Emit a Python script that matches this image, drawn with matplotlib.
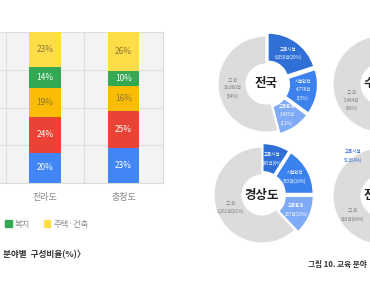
import numpy as np
import matplotlib
matplotlib.use("Agg")
import matplotlib.pyplot as plt
from matplotlib.patches import Patch

plt.rcParams['font.family'] = ['Noto Sans CJK KR', 'DejaVu Sans']

## Data:
# Stacked bars (bottom to top), percent per region.
regions = ['전라도', '충청도']
seg_blue = [20, 23]
seg_red = [24, 25]
seg_amber = [19, 16]
seg_welfare = [14, 10]      # 복지
seg_housing = [23, 26]      # 주택·건축

# Donuts: 교육시설, 시설안전, 교육환경, 그 외 (percent)
donut_parts = ['교육시설', '시설안전', '교육환경', '그 외']
nat_pct = [20, 15, 11, 54]
nat_txt = ['교육시설\n6,050건(20%)', '시설안전\n4,778건\n(15%)', '교육환경\n3,435건\n(11%)', '그 외\n16,860건\n(54%)']
cap_pct = [12, 13, 9, 66]
cap_txt = ['', '', '', '그 외\n5,484건\n(66%)']
gs_pct = [9, 16, 13, 62]
gs_txt = ['교육시설\n185건(9%)', '시설안전\n333건(16%)', '교육환경\n267건(13%)', '그 외\n1,261건(62%)']
jl_pct = [4, 15, 12, 69]
jl_txt = ['', '', '', '그 외\n983건(69%)']

W, H = 370, 290
fig = plt.figure(figsize=(W/100, H/100), dpi=100)
fig.patch.set_facecolor('white')

def px_axes(x0, y0, x1, y1):
	return fig.add_axes([x0/W, 1-y1/H, (x1-x0)/W, (y1-y0)/H])

## Left: stacked bar chart
ax = px_axes(0, 32, 163, 183)
ax.set_facecolor('#f3f3f3')
x = np.arange(len(regions))
cols = ['#4285F4', '#EA4335', '#FBBC05', '#34A853', '#FDDD48']
txtc = ['white', 'white', '#8a7636', 'white', '#8a7636']
series = [seg_blue, seg_red, seg_amber, seg_welfare, seg_housing]
bottom = np.zeros(len(regions))
for s, c, tc in zip(series, cols, txtc):
	bars = ax.bar(x, s, 0.4, bottom=bottom, color=c, zorder=3)
	for b, v in zip(bars, s):
		ax.text(b.get_x()+b.get_width()/2, b.get_y()+b.get_height()/2, f'{v}%',
			ha='center', va='center', fontsize=6, color=tc, zorder=4)
	bottom += np.array(s)
ax.set_xlim(-0.57, 1.5)
ax.set_ylim(0, 100)
ax.set_yticks([0, 25, 50, 75, 100])
ax.set_xticks([-0.5, 0.5, 1.5], minor=True)
ax.grid(True, which='major', axis='y', color='#dedede', lw=0.8, zorder=0)
ax.grid(True, which='minor', axis='x', color='#dedede', lw=0.8, zorder=0)
ax.tick_params(axis='y', left=False, labelleft=False)
ax.tick_params(axis='x', which='both', length=0)
ax.set_xticks(x)
ax.set_xticklabels(regions, fontsize=6.5, color='#8a8a8a')
ax.tick_params(axis='x', pad=7)
for sp in ['left', 'top']:
	ax.spines[sp].set_visible(False)
for sp in ['right', 'bottom']:
	ax.spines[sp].set_color('#dcdcdc')

# Legend (only the visible part)
handles = [Patch(color='#34A853', label='복지'), Patch(color='#FDDD48', label='주택·건축')]
fig.legend(handles=handles, loc='center left', bbox_to_anchor=(5/W, 1-224/H), ncol=2,
	frameon=False, fontsize=6, labelcolor='#8a8a8a', handlelength=0.8, handleheight=0.8,
	handletextpad=0.4, columnspacing=1.6, borderaxespad=0, borderpad=0)

fig.text(3/W, 1-255/H, '분야별  구성비율(%)〉', fontsize=6.2, fontweight='bold',
	color='#333333', ha='left', va='center')

## Right: donuts
dcols = ['#2f6fd6', '#3c82ee', '#7eaaf6', '#dcdcdc']
dtxt = ['white', 'white', 'white', '#777777']

def donut(cx, cy, pct, texts, title):
	a = px_axes(cx-55, cy-55, cx+55, cy+55)
	rad, wid, ex = 0.96, 0.56, 0.07
	wedges, _ = a.pie(pct, colors=dcols, startangle=90, counterclock=False,
		radius=rad, explode=[ex, ex, ex, 0],
		wedgeprops=dict(width=wid, edgecolor='white', linewidth=0.8))
	for w, t, tc, e in zip(wedges, texts, dtxt, [ex, ex, ex, 0]):
		if not t:
			continue
		ang = np.deg2rad((w.theta1+w.theta2)/2)
		r = rad - wid/2 + e
		a.text(r*np.cos(ang), r*np.sin(ang), t, ha='center', va='center',
			fontsize=3.2, color=tc, linespacing=1.7)
	a.text(0, 0, title, ha='center', va='center', fontsize=9, fontweight='bold', color='#222222')
	a.set_xlim(-1.1, 1.1)
	a.set_ylim(-1.1, 1.1)
	a.axis('off')
	return a

donut(266, 84, nat_pct, nat_txt, '전국')
donut(381, 84, cap_pct, cap_txt, '수도권')
donut(262, 195, gs_pct, gs_txt, '경상도')
a4 = donut(381, 196, jl_pct, jl_txt, '전라도')
a4.text(-0.56, 0.8, '교육시설\n51건(4%)', ha='center', va='center', fontsize=3.2,
	color='#2f6fd6', linespacing=1.7)

fig.text(308/W, 1-264/H, '그림 10. 교육 분야', fontsize=5.5, fontweight='bold',
	color='#333333', ha='left', va='center')

fig.savefig('out.png', dpi=100)
